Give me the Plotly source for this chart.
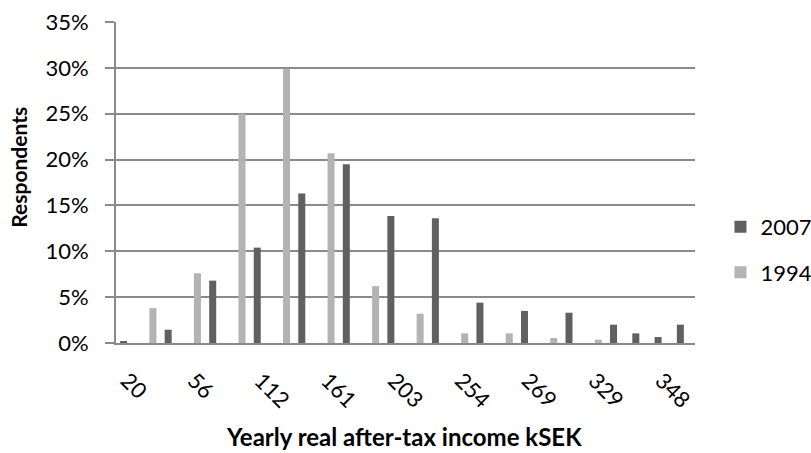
import plotly.graph_objects as go

# 26 income categories (index), labels shown every 3rd category
category_index = list(range(26))
tick_positions = [0, 3, 6, 9, 12, 15, 18, 21, 24]
tick_labels = ["20", "56", "112", "161", "203", "254", "269", "329", "348"]

# Share of respondents (%) per category; None = no bar in that category
values_2007 = [0.2, None, 1.45, None, 6.8, None, 10.4, None, 16.3, None, 19.5, None, 13.85,
               None, 13.6, None, 4.4, None, 3.5, None, 3.3, None, 2.0, 1.05, 0.65, 2.0]
values_1994 = [None, 3.8, None, 7.6, None, 25.0, None, 29.9, None, 20.7, None, 6.2, None,
               3.2, None, 1.05, None, 1.05, None, 0.55, None, 0.36, None, None, None, None]

FONT = "Lato"
GRID = "#8a8a8a"

fig = go.Figure()
fig.add_trace(go.Bar(x=category_index, y=values_2007, name="2007",
                     marker=dict(color="#606060", line=dict(width=0)),
                     legendgroup="a"))
fig.add_trace(go.Bar(x=category_index, y=values_1994, name="1994",
                     marker=dict(color="#b3b3b3", line=dict(width=0)),
                     legendgroup="b"))

fig.update_layout(
    width=811, height=453,
    margin=dict(l=116, r=116, t=22, b=110, autoexpand=False),
    paper_bgcolor="white", plot_bgcolor="white",
    barmode="group", bargap=0.37, bargroupgap=0,
    font=dict(family=FONT, size=22, color="#000000"),
    legend=dict(x=1.044, xanchor="left", y=0.29, yanchor="middle",
                font=dict(family=FONT, size=22, color="#000000"),
                itemwidth=30, tracegroupgap=14, traceorder="grouped",
                bgcolor="rgba(0,0,0,0)"),
    showlegend=True,
)
fig.update_xaxes(
    range=[-0.5, 25.5], tickmode="array", tickvals=tick_positions, ticktext=tick_labels,
    tickangle=45, showgrid=False, showline=True, linecolor=GRID, linewidth=2,
    ticks="", zeroline=False, tickfont=dict(family=FONT, size=22), ticklabelstandoff=14,
)
fig.update_yaxes(
    range=[0, 35], dtick=5, ticksuffix="%", showgrid=True, gridcolor=GRID, gridwidth=1.5,
    showline=True, linecolor=GRID, linewidth=2, ticks="outside", ticklen=9, tickcolor=GRID,
    tickwidth=1.5, zeroline=False, tickfont=dict(family=FONT, size=22), ticklabelstandoff=12,
)
fig.add_annotation(text="<b>Respondents</b>", xref="paper", yref="paper",
                   x=-0.1675, y=0.546, textangle=-90, showarrow=False,
                   font=dict(family=FONT, size=21), xanchor="center", yanchor="middle")
fig.add_annotation(text="<b>Yearly real after-tax income kSEK</b>", xref="paper", yref="paper",
                   x=0.497, y=-0.292, showarrow=False,
                   font=dict(family=FONT, size=24), xanchor="center", yanchor="middle")

fig.write_html("out.html", config={"displayModeBar": False},
               post_script="document.body.style.margin='0';")
